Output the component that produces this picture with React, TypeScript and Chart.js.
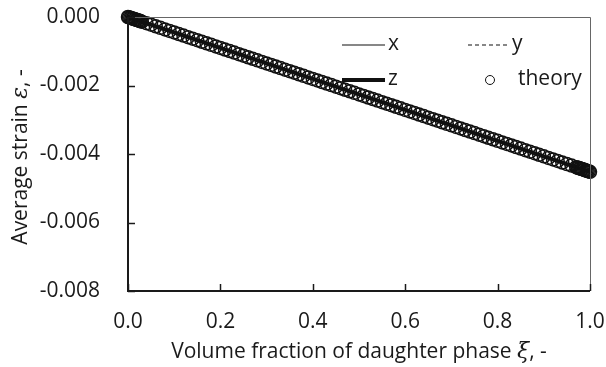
import React, { useEffect, useRef } from "react";
import { Chart, registerables } from "chart.js";

Chart.register(...registerables);

// Volume fraction of daughter phase (theory points)
const theoryXi = [
  0, 0.0025, 0.005, 0.0075, 0.01, 0.0125, 0.015, 0.0175, 0.02, 0.0225, 0.025, 0.0275,
  0.03, 0.04, 0.05, 0.06, 0.07, 0.08, 0.09,
  0.1, 0.11, 0.12, 0.13, 0.14, 0.15, 0.16, 0.17, 0.18, 0.19,
  0.2, 0.21, 0.22, 0.23, 0.24, 0.25, 0.26, 0.27, 0.28, 0.29,
  0.3, 0.31, 0.32, 0.33, 0.34, 0.35, 0.36, 0.37, 0.38, 0.39,
  0.4, 0.41, 0.42, 0.43, 0.44, 0.45, 0.46, 0.47, 0.48, 0.49,
  0.5, 0.51, 0.52, 0.53, 0.54, 0.55, 0.56, 0.57, 0.58, 0.59,
  0.6, 0.61, 0.62, 0.63, 0.64, 0.65, 0.66, 0.67, 0.68, 0.69,
  0.7, 0.71, 0.72, 0.73, 0.74, 0.75, 0.76, 0.77, 0.78, 0.79,
  0.8, 0.81, 0.82, 0.83, 0.84, 0.85, 0.86, 0.87, 0.88, 0.89,
  0.9, 0.91, 0.92, 0.93, 0.94, 0.95, 0.96,
  0.97, 0.9725, 0.975, 0.9775, 0.98, 0.9825, 0.985, 0.9875, 0.99, 0.9925, 0.995, 0.9975, 1.0,
];

// Average strain (theory points)
const theoryStrain = [
  0, -0.0000113, -0.0000226, -0.0000339, -0.0000452, -0.0000565, -0.0000678, -0.0000791, -0.0000904, -0.0001017, -0.000113, -0.0001243,
  -0.0001356, -0.0001808, -0.000226, -0.0002712, -0.0003164, -0.0003616, -0.0004068,
  -0.000452, -0.0004972, -0.0005424, -0.0005876, -0.0006328, -0.000678, -0.0007232, -0.0007684, -0.0008136, -0.0008588,
  -0.000904, -0.0009492, -0.0009944, -0.0010396, -0.0010848, -0.00113, -0.0011752, -0.0012204, -0.0012656, -0.0013108,
  -0.001356, -0.0014012, -0.0014464, -0.0014916, -0.0015368, -0.001582, -0.0016272, -0.0016724, -0.0017176, -0.0017628,
  -0.001808, -0.0018532, -0.0018984, -0.0019436, -0.0019888, -0.002034, -0.0020792, -0.0021244, -0.0021696, -0.0022148,
  -0.00226, -0.0023052, -0.0023504, -0.0023956, -0.0024408, -0.002486, -0.0025312, -0.0025764, -0.0026216, -0.0026668,
  -0.002712, -0.0027572, -0.0028024, -0.0028476, -0.0028928, -0.002938, -0.0029832, -0.0030284, -0.0030736, -0.0031188,
  -0.003164, -0.0032092, -0.0032544, -0.0032996, -0.0033448, -0.00339, -0.0034352, -0.0034804, -0.0035256, -0.0035708,
  -0.003616, -0.0036612, -0.0037064, -0.0037516, -0.0037968, -0.003842, -0.0038872, -0.0039324, -0.0039776, -0.0040228,
  -0.004068, -0.0041132, -0.0041584, -0.0042036, -0.0042488, -0.004294, -0.0043392,
  -0.0043844, -0.0043957, -0.004407, -0.0044183, -0.0044296, -0.0044409, -0.0044522, -0.0044635, -0.0044748, -0.0044861, -0.0044974, -0.0045087, -0.00452,
];

// Simulation lines (x, y, z components)
const lineXi = [0, 0.25, 0.5, 0.75, 1.0];
const strainX = [0, -0.00113, -0.00226, -0.00339, -0.00452];
const strainY = [0, -0.00113, -0.00226, -0.00339, -0.00452];
const strainZ = [0, -0.00113, -0.00226, -0.00339, -0.00452];

const xTicks = [0, 0.2, 0.4, 0.6, 0.8, 1.0];
const yTicks = [0, -0.002, -0.004, -0.006, -0.008];

const FONT = "'Open Sans', 'DejaVu Sans', sans-serif";
const TEXT = "#1a1a1a";
const FS = 21;

function drawMixed(ctx: CanvasRenderingContext2D, parts: { t: string; f: string }[], cx: number, cy: number) {
  let total = 0;
  const widths = parts.map((p) => {
    ctx.font = p.f;
    const w = ctx.measureText(p.t).width;
    total += w;
    return w;
  });
  let x = cx - total / 2;
  ctx.textBaseline = "middle";
  ctx.textAlign = "left";
  parts.forEach((p, i) => {
    ctx.font = p.f;
    ctx.fillText(p.t, x, cy);
    x += widths[i];
  });
}

const framePlugin = {
  id: "frame",
  afterDraw(chart: any) {
    const ctx = chart.ctx as CanvasRenderingContext2D;
    const { left, right, top, bottom } = chart.chartArea;
    const xs = chart.scales.x;
    const ys = chart.scales.y;
    ctx.save();
    // plot border (top, right)
    ctx.strokeStyle = "#666";
    ctx.lineWidth = 1;
    ctx.beginPath();
    ctx.moveTo(left, top + 0.5);
    ctx.lineTo(right + 0.5, top + 0.5);
    ctx.lineTo(right + 0.5, bottom);
    ctx.stroke();
    // axes (left, bottom)
    ctx.strokeStyle = "#1a1a1a";
    ctx.lineWidth = 2;
    ctx.beginPath();
    ctx.moveTo(left, top);
    ctx.lineTo(left, bottom);
    ctx.lineTo(right, bottom);
    ctx.stroke();
    // inward ticks
    ctx.lineWidth = 1.5;
    yTicks.forEach((v) => {
      const y = Math.round(ys.getPixelForValue(v)) + 0.5;
      ctx.beginPath();
      ctx.moveTo(left, y);
      ctx.lineTo(left + 7, y);
      ctx.stroke();
    });
    xTicks.forEach((v) => {
      const x = Math.round(xs.getPixelForValue(v)) + 0.5;
      ctx.beginPath();
      ctx.moveTo(x, bottom);
      ctx.lineTo(x, bottom - 7);
      ctx.stroke();
    });

    // axis titles
    ctx.fillStyle = TEXT;
    drawMixed(
      ctx,
      [
        { t: "Volume fraction of daughter phase ", f: `${FS}px ${FONT}` },
        { t: "ξ", f: `italic 22px 'DejaVu Serif', serif` },
        { t: ", -", f: `${FS}px ${FONT}` },
      ],
      (left + right) / 2,
      352
    );
    ctx.save();
    ctx.translate(21, 157);
    ctx.rotate(-Math.PI / 2);
    drawMixed(
      ctx,
      [
        { t: "Average strain ", f: `${FS}px ${FONT}` },
        { t: "ε", f: `italic 22px 'DejaVu Serif', serif` },
        { t: ", -", f: `${FS}px ${FONT}` },
      ],
      0,
      0
    );
    ctx.restore();

    // legend
    ctx.strokeStyle = "#111";
    ctx.fillStyle = TEXT;
    ctx.font = `${FS}px ${FONT}`;
    ctx.textBaseline = "middle";
    ctx.textAlign = "left";
    const row1 = 45;
    const row2 = 80;
    // x
    ctx.lineWidth = 1.2;
    ctx.setLineDash([]);
    ctx.beginPath();
    ctx.moveTo(342, row1);
    ctx.lineTo(385, row1);
    ctx.stroke();
    ctx.fillText("x", 388, row1 - 1);
    // y
    ctx.setLineDash([4, 3]);
    ctx.beginPath();
    ctx.moveTo(468, row1);
    ctx.lineTo(510, row1);
    ctx.stroke();
    ctx.setLineDash([]);
    ctx.fillText("y", 512, row1 - 1);
    // z
    ctx.lineWidth = 4;
    ctx.beginPath();
    ctx.moveTo(342, row2);
    ctx.lineTo(385, row2);
    ctx.stroke();
    ctx.fillText("z", 388, row2 - 1);
    // theory
    ctx.lineWidth = 1;
    ctx.beginPath();
    ctx.arc(490, row2, 4.5, 0, Math.PI * 2);
    ctx.stroke();
    ctx.fillText("theory", 518, row2 - 1);
    ctx.restore();
  },
};

export default function App() {
  const ref = useRef<HTMLCanvasElement>(null);
  useEffect(() => {
    document.body.style.margin = "0";
    const canvas = ref.current!;
    const pts = (xs: number[], ys: number[]) => xs.map((x, i) => ({ x, y: ys[i] }));
    const chart = new Chart(canvas, {
      type: "scatter",
      data: {
        datasets: [
          {
            label: "theory",
            data: pts(theoryXi, theoryStrain),
            showLine: false,
            pointStyle: "circle",
            pointRadius: 6.5,
            pointBorderWidth: 1.5,
            pointBorderColor: "#111",
            pointBackgroundColor: "rgba(255,255,255,0)",
            clip: false,
            order: 0,
          } as any,
          {
            label: "x",
            data: pts(lineXi, strainX),
            showLine: true,
            borderColor: "#111",
            borderWidth: 1,
            pointRadius: 0,
            clip: false,
            order: 1,
          },
          {
            label: "y",
            data: pts(lineXi, strainY),
            showLine: true,
            borderColor: "#111",
            borderWidth: 1,
            borderDash: [4, 3],
            pointRadius: 0,
            clip: false,
            order: 2,
          },
          {
            label: "z",
            data: pts(lineXi, strainZ),
            showLine: true,
            borderColor: "#111",
            borderWidth: 4,
            borderCapStyle: "round",
            pointRadius: 0,
            clip: false,
            order: 3,
          },
        ],
      },
      options: {
        responsive: false,
        animation: false,
        layout: { padding: { top: 17, right: 16, left: 0, bottom: 0 } },
        plugins: { legend: { display: false }, tooltip: { enabled: false } },
        scales: {
          x: {
            type: "linear",
            min: 0,
            max: 1,
            afterFit: (s: any) => {
              s.height = 76;
              s.paddingLeft = 0;
              s.paddingRight = 0;
              s.paddingTop = 0;
              s.paddingBottom = 0;
            },
            afterBuildTicks: (s: any) => {
              s.ticks = xTicks.map((v) => ({ value: v }));
            },
            grid: { display: false, drawTicks: false },
            border: { display: false },
            ticks: {
              font: { family: FONT, size: FS },
              color: TEXT,
              padding: 18,
              maxRotation: 0,
              callback: (v: any) => Number(v).toFixed(1),
            },
          },
          y: {
            type: "linear",
            min: -0.008,
            max: 0,
            afterFit: (s: any) => {
              s.width = 128;
              s.paddingLeft = 0;
              s.paddingRight = 0;
              s.paddingTop = 0;
              s.paddingBottom = 0;
            },
            afterBuildTicks: (s: any) => {
              s.ticks = yTicks.map((v) => ({ value: v }));
            },
            grid: { display: false, drawTicks: false },
            border: { display: false },
            ticks: {
              font: { family: FONT, size: FS },
              color: TEXT,
              padding: 28,
              callback: (v: any) => Number(v).toFixed(3),
            },
          },
        },
      },
      plugins: [framePlugin],
    });
    return () => chart.destroy();
  }, []);
  return (
    <div style={{ position: "absolute", left: 0, top: 0, width: 606, height: 367, background: "#fff" }}>
      <canvas ref={ref} width={606} height={367} />
    </div>
  );
}
